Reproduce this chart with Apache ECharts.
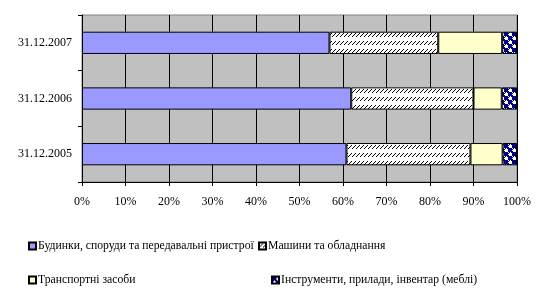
<!DOCTYPE html>
<html>
<head>
<meta charset="utf-8">
<script src="https://cdn.jsdelivr.net/npm/echarts@6/dist/echarts.min.js"></script>
<style>html,body{margin:0;padding:0;background:#fff}#c{width:553px;height:290px}</style>
</head>
<body>
<div id="c"></div>
<script>
var categories = ['31.12.2005', '31.12.2006', '31.12.2007'];
var seriesNames = ['Будинки, споруди та передавальні пристрої', 'Машини та обладнання', 'Транспортні засоби', 'Інструменти, прилади, інвентар (меблі)'];
var buildings = [60.8, 61.9, 56.9];
var machines = [28.5, 28.1, 25.0];
var transport = [7.4, 6.5, 14.7];
var tools = [3.3, 3.5, 3.4];
var xTicks = ['0%', '10%', '20%', '30%', '40%', '50%', '60%', '70%', '80%', '90%', '100%'];

function hatchPattern() {
  var c = document.createElement('canvas');
  c.width = 4; c.height = 8;
  var g = c.getContext('2d');
  g.fillStyle = '#ffffff'; g.fillRect(0, 0, 4, 8);
  g.fillStyle = '#000000';
  g.fillRect(3, 1, 1, 1); g.fillRect(2, 2, 1, 1); g.fillRect(1, 3, 1, 1); g.fillRect(0, 4, 1, 1);
  return c;
}
function checkPattern() {
  var c = document.createElement('canvas');
  c.width = 8; c.height = 8;
  var g = c.getContext('2d');
  g.fillStyle = '#000080'; g.fillRect(0, 0, 8, 8);
  g.fillStyle = '#ffffff';
  for (var y = 0; y < 8; y++) for (var x = 0; x < 8; x++) {
    var off = (x < 4) !== (y < 4);
    if (off && ((x % 4 !== 0 && y % 4 !== 0) || (x + y) % 2 === 0)) g.fillRect(x, y, 1, 1);
  }
  return c;
}
var colors = ['#9999FF', {image: hatchPattern(), repeat: 'repeat'}, '#FFFFCC', {image: checkPattern(), repeat: 'repeat'}];
var dataSets = [buildings, machines, transport, tools];

var chart = echarts.init(document.getElementById('c'), null, {renderer: 'canvas'});
var font = '"Liberation Serif", "Times New Roman", serif';
var legendPos = [[28, 240], [258, 240], [28, 274], [271, 274]];
var legends = seriesNames.map(function (n, i) {
  return {
    data: [n], left: legendPos[i][0], top: legendPos[i][1],
    itemWidth: 7, itemHeight: 7, itemGap: 4, icon: 'rect',
    textStyle: {fontFamily: font, fontSize: 11.7, color: '#000', padding: [0, 0, 0, -3]},
    padding: 0
  };
});
chart.setOption({
  animation: false,
  backgroundColor: '#ffffff',
  legend: legends,
  grid: {left: 82, right: 36, top: 15, bottom: 108, show: true, backgroundColor: '#C0C0C0', borderColor: '#808080', borderWidth: 1},
  xAxis: {
    type: 'value', min: 0, max: 100, interval: 10,
    axisLine: {show: true, lineStyle: {color: '#000', width: 1}},
    axisTick: {show: true, length: 4, lineStyle: {color: '#000'}},
    splitLine: {show: true, lineStyle: {color: '#000', width: 1}},
    axisLabel: {margin: 14, fontFamily: font, fontSize: 12, color: '#000',
      formatter: function (v) { return xTicks[Math.round(v / 10)]; }}
  },
  yAxis: {
    type: 'category', data: categories,
    axisLine: {show: true, lineStyle: {color: '#000', width: 1}},
    axisTick: {show: true, length: 4, lineStyle: {color: '#000'}},
    axisLabel: {margin: 10, fontFamily: font, fontSize: 12, color: '#000'}
  },
  series: dataSets.map(function (d, i) {
    return {
      name: seriesNames[i], type: 'bar', stack: 'total', data: d, barWidth: '40%',
      itemStyle: {color: colors[i], borderColor: '#000', borderWidth: 1}
    };
  })
});
</script>
</body>
</html>
